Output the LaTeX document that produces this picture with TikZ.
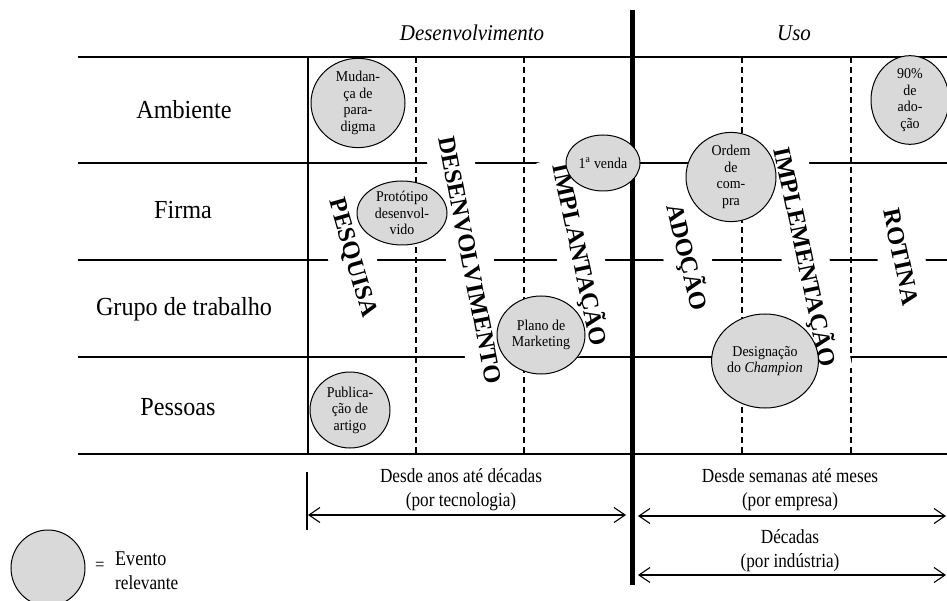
\documentclass[tikz,border=0pt]{standalone}
\usepackage{fontspec}
\setmainfont{Liberation Serif}[FakeStretch=0.93]
\newfontfamily\phasefont{Liberation Serif}
\newfontfamily\spanfont{Liberation Serif}[FakeStretch=0.86]
\usetikzlibrary{arrows.meta,shapes.geometric}
\definecolor{eventgray}{RGB}{217,217,217}

\begin{document}
\begin{tikzpicture}[x=1pt,y=-1pt,
  grid/.style={line width=2.6pt},
  frameline/.style={line width=2.4pt},
  divider/.style={line width=5pt},
  subdiv/.style={line width=1.1pt, dash pattern=on 6pt off 4pt},
  rowlabel/.style={font=\fontsize{26}{30}\selectfont},
  header/.style={font=\fontsize{22.5}{26}\selectfont\itshape},
  phase/.style={font=\phasefont\bfseries\fontsize{24.5}{24.5}\selectfont,
    fill=white, inner xsep=6pt, inner ysep=0pt, minimum height=47pt},
  event/.style={ellipse, draw, line width=1pt, fill=eventgray, inner sep=0pt,
    align=center, font=\fontsize{15}{16.5}\selectfont},
  span/.style={font=\spanfont\fontsize{20}{24}\selectfont, align=center},
  barb/.tip={Straight Barb[length=11pt,width=15pt]},
  spanarrow/.style={line width=1.1pt, barb-barb},
]
% canvas
\fill[white] (0,0) rectangle (947,601);
\useasboundingbox (0,0) rectangle (947,601);

% table rows
\foreach \y in {57,163,260,357,454}
  \draw[grid] (78,\y) -- (952,\y);
\draw[frameline] (308,57) -- (308,454);

% stage subdivisions
\foreach \x in {416,524,742,851}
  \draw[subdiv] (\x,57) -- (\x,454);

% divider between development and use
\draw[divider] (632,10) -- (632,585);

% column headers
\node[header] (hdev) at (472,33) {Desenvolvimento};
\node[header] (huse) at (794,33) {Uso};

% row labels
\node[rowlabel] (lamb) at (184,110) {Ambiente};
\node[rowlabel] (lfir) at (183,210) {Firma};
\node[rowlabel] (lgru) at (184,309) {Grupo de trabalho};
\node[rowlabel] (lpes) at (178,407) {Pessoas};

% phases
\node[phase, rotate=-74] (pesq) at (352,258) {PESQUISA};
\node[phase, rotate=-79] (desv) at (470,260) {DESENVOLVIMENTO};
\node[phase, rotate=-78] (impl) at (580,255) {IMPLANTAÇÃO};
\node[phase, rotate=-76] (adoc) at (687,257) {ADOÇÃO};
\node[phase, rotate=-78] (imem) at (805,257) {IMPLEMENTAÇÃO};
\node[phase, rotate=-78] (roti) at (901,257) {ROTINA};

% relevant events
\node[event, minimum width=94pt, minimum height=70pt] (mudanca) at (358,103)
  {Mudan-\\ça de\\para-\\digma};
\node[event, minimum width=90pt, minimum height=64pt] (prototipo) at (402,213)
  {Protótipo\\desenvol-\\vido};
\node[event, minimum width=74pt, minimum height=56pt] (venda) at (603,163)
  {1\textsuperscript{a} venda};
\node[event, minimum width=90pt, minimum height=80pt] (ordem) at (731,177)
  {Ordem\\de\\com-\\pra};
\node[event, minimum width=78pt, minimum height=80pt] (noventa) at (910,100)
  {90\%\\de\\ado-\\ção};
\node[event, minimum width=88pt, minimum height=78pt] (plano) at (541,335)
  {Plano de\\Marketing};
\node[event, minimum width=80pt, minimum height=76pt] (publicacao) at (350,410)
  {Publica-\\ção de\\artigo};
\node[event, minimum width=104pt, minimum height=94pt] (champion) at (765,361)
  {Designação\\do \textit{Champion}};

% time spans
\coordinate (tickT) at (307,472);
\coordinate (tickB) at (307,530);
\draw[line width=2pt] (tickT) -- (tickB);
\coordinate (a1l) at (308,515);
\coordinate (a1r) at (626,515);
\coordinate (a2l) at (638,516);
\coordinate (a2r) at (946,516);
\coordinate (a3l) at (638,575);
\coordinate (a3r) at (946,575);
\draw[spanarrow] (a1l) -- (a1r);
\draw[spanarrow] (a2l) -- (a2r);
\draw[spanarrow] (a3l) -- (a3r);
\node[span] (stec) at (461,490) {Desde anos até décadas\\(por tecnologia)};
\node[span] (semp) at (790,490) {Desde semanas até meses\\(por empresa)};
\node[span] (sind) at (790,551) {Décadas\\(por indústria)};

% legend
\node[event, minimum width=74pt, minimum height=76pt] (legend) at (48,568) {};
\node[font=\fontsize{18}{18}\selectfont, anchor=west, inner sep=0pt] (eq) at (95,566) {=};
\node[span, anchor=west, align=left, inner sep=0pt] (legtext) at (115,571)
  {\fontsize{21}{26}\selectfont Evento\\relevante};
\end{tikzpicture}
\end{document}
